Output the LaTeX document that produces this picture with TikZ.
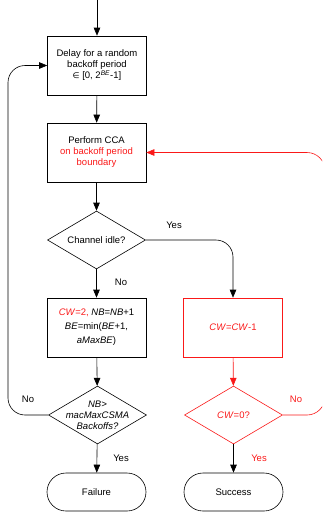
\documentclass[tikz,border=0pt]{standalone}
\usepackage{fontspec}
\setmainfont{Liberation Sans}
\newfontfamily\symfont{DejaVu Sans}
\usetikzlibrary{arrows.meta,shapes.geometric}
\definecolor{alert}{RGB}{250,25,25}
\begin{document}
\begin{tikzpicture}[x=1pt,y=-1pt,
  font=\fontsize{9.5}{11}\selectfont,
  proc/.style={draw, line width=0.6pt, minimum width=99pt, minimum height=59pt,
    align=center, inner sep=1pt},
  cond/.style={draw, diamond, line width=0.6pt, minimum width=98pt,
    minimum height=58pt, inner sep=0pt},
  term/.style={draw, rounded corners=19pt, line width=0.6pt,
    minimum width=99pt, minimum height=38pt},
  conn/.style={line width=0.6pt, -{Triangle[length=8pt,width=6.5pt]}},
  lbl/.style={inner sep=0pt}]
\useasboundingbox (0,0) rectangle (322,512);
\clip (0,0) rectangle (322,512);

% process boxes
\node[proc] (delay) at (97,65.5)
  {Delay for a random\\backoff period\\{\symfont\fontsize{8}{11}\selectfont ∈} [0, 2\textsuperscript{\textit{BE}}-1]};
\node[proc] (cca) at (96.5,152.5)
  {Perform CCA\\\textcolor{alert}{on backoff period}\\\textcolor{alert}{boundary}};
\node[cond] (idle) at (96.5,240) {};
\node[lbl] (idletxt) at (idle) {Channel idle?};
\node[proc, font=\fontsize{9.5}{14}\selectfont] (update) at (96.5,327.5)
  {\textcolor{alert}{\textit{CW}=2,} \textit{NB}=\textit{NB}+1\\
   \textit{BE}=min(\textit{BE}+1,\\\textit{aMaxBE})};
\node[proc, draw=alert, text=alert] (dec) at (233,327.5) {\textit{CW}=\textit{CW}-1};
\node[cond] (limit) at (97.5,415) {};
\node[lbl, align=center, font=\fontsize{9.5}{11}\selectfont\itshape] (limittxt) at (limit)
  {NB>\\macMaxCSMA\\Backoffs?};
\node[cond, draw=alert] (zero) at (233.5,415) {};
\node[lbl, text=alert] (zerotxt) at (zero) {\textit{CW}=0?};
\node[term] (fail) at (96.5,492) {Failure};
\node[term] (succ) at (233.5,492) {Success};

% connectors
\coordinate (entry) at (97,0);
\coordinate (lx) at (8,240);
\coordinate (rx) at (325,300);
\draw[conn] (entry) -- (delay);
\draw[conn] (delay) -- (cca);
\draw[conn] (cca) -- (idle);
\draw[conn] (idle) -- (update);
\draw[conn, rounded corners=17pt] (idle.east) -| (dec.north);
\draw[conn] (update) -- (limit);
\draw[conn] (limit) -- (fail);
\draw[conn, rounded corners=17pt] (limit.west) -| (lx) |- (delay.west);
\draw[conn, color=alert] (dec) -- (zero);
\draw[conn] (zero) -- (succ);
\draw[conn, color=alert, rounded corners=18pt] (zero.east) -| (rx) |- (cca.east);

% branch labels
\node[lbl] (yes1) at (174,225) {Yes};
\node[lbl] (no1) at (121,282) {No};
\node[lbl] (no2) at (28,399) {No};
\node[lbl] (yes2) at (121,458) {Yes};
\node[lbl, text=alert] (no3) at (296,399) {No};
\node[lbl, text=alert] (yes3) at (259,458) {Yes};
\end{tikzpicture}
\end{document}
